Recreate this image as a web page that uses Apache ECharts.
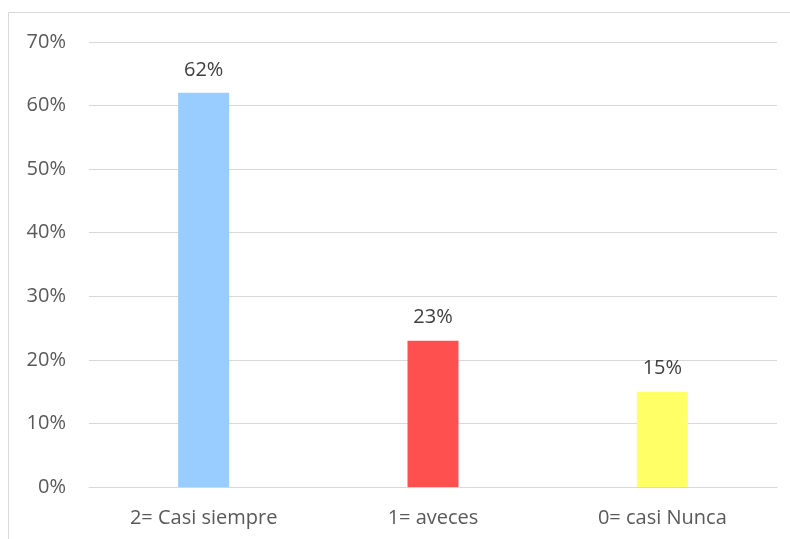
<!DOCTYPE html>
<html>
<head>
<meta charset="utf-8">
<script src="https://cdn.jsdelivr.net/npm/echarts@6/dist/echarts.min.js"></script>
<style>
  html, body { margin: 0; padding: 0; background: #fff; }
  #chart { width: 790px; height: 539px; }
</style>
</head>
<body>
<div id="chart"></div>
<script>
// Survey answers and their share of responses
const categories = ['2= Casi siempre', '1= aveces', '0= casi Nunca'];
const shares = [62, 23, 15];
const barColors = ['#99CCFF', '#FF5050', '#FFFF66'];

const FONT = 'Open Sans';
const TEXT = '#595959';

const chart = echarts.init(document.getElementById('chart'), null, { renderer: 'canvas' });

chart.setOption({
  backgroundColor: '#ffffff',
  animation: false,
  graphic: [{
    type: 'rect',
    shape: { x: 8.5, y: 12.5, width: 800, height: 560 },
    style: { fill: 'none', stroke: '#d9d9d9', lineWidth: 1 },
    silent: true,
    z: -1
  }],
  grid: { left: 89, right: 13, top: 42, bottom: 52, containLabel: false },
  xAxis: {
    type: 'category',
    data: categories,
    axisLine: { show: true, lineStyle: { color: '#d9d9d9', width: 1 } },
    axisTick: { show: false },
    axisLabel: { color: TEXT, fontFamily: FONT, fontSize: 20, margin: 21 }
  },
  yAxis: {
    type: 'value',
    min: 0,
    max: 70,
    interval: 10,
    axisLine: { show: false },
    axisTick: { show: false },
    splitLine: { lineStyle: { color: '#d9d9d9', width: 1 } },
    axisLabel: { color: TEXT, fontFamily: FONT, fontSize: 20, margin: 23, formatter: '{value}%' }
  },
  series: [{
    type: 'bar',
    barWidth: 51,
    data: shares.map((v, i) => ({ value: v, itemStyle: { color: barColors[i] } })),
    label: {
      show: true,
      position: 'top',
      distance: 13,
      color: '#404040',
      fontFamily: FONT,
      fontSize: 20,
      formatter: '{c}%'
    }
  }]
});
</script>
</body>
</html>
